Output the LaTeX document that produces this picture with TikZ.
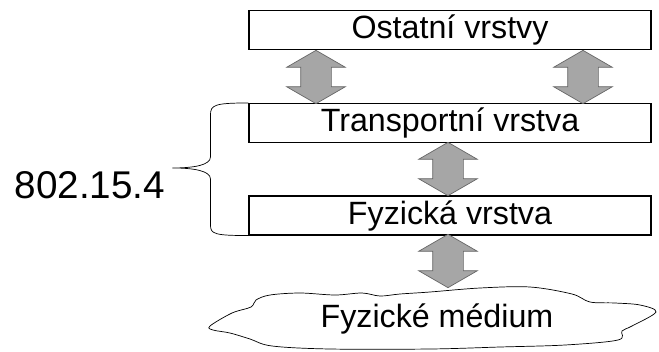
\documentclass[tikz,border=0pt]{standalone}
\usepackage{fontspec}
\setmainfont{Liberation Sans}
\usetikzlibrary{shapes.arrows}

\tikzset{
  vrstva/.style={draw,line width=0.9pt,minimum width=12.06cm,minimum height=1.17cm,
    inner sep=0pt,font=\fontsize{27.5}{30}\selectfont},
  sipka/.style={double arrow,draw=black!60,fill=black!35,line width=0.6pt,rotate=90,
    minimum height=1.6cm,inner xsep=0pt,inner ysep=0.45cm,
    double arrow head extend=0.42cm,double arrow tip angle=120},
}

\begin{document}
\begin{tikzpicture}[x=0.03cm,y=-0.03cm]
\useasboundingbox (0,0) rectangle (659,351);

\node[vrstva] (ostatni) at (450,30) {Ostatní vrstvy};
\node[vrstva] (transport) at (450,123) {Transportní vrstva};
\node[vrstva] (fyzicka) at (450,215.5) {Fyzická vrstva};

\node[sipka] (s1) at (316,77) {};
\node[sipka] (s2) at (583,77) {};
\node[sipka] (s3) at (448,169) {};
\node[sipka] (s4) at (448,261) {};

\draw[line width=0.6pt] plot[smooth cycle,tension=0.55] coordinates {
    (210,326) (232,313) (251,307) (256,300) (270,295) (300,293) (335,295)
    (362,293) (380,296) (400,294) (430,292) (480,288) (530,287) (572,294)
    (590,302) (615,303) (640,305) (656,312) (632,326) (622,331) (618,340)
    (565,345) (500,347) (430,349) (330,349) (272,346) (250,339) (230,333)
    (213,330)};
\node[anchor=base,font=\fontsize{27.5}{30}\selectfont] (medium) at (437,327) {Fyzické médium};

\node[anchor=base,font=\fontsize{33}{36}\selectfont] (norma) at (90,198) {802.15.4};

\draw[line width=0.6pt] (transport.north west)
    .. controls +(-34,0) and +(0,-10) .. ++(-38,12) -- ++(0,42)
    .. controls +(0,8) and +(22,0) .. ++(-38,11) coordinate (hrot)
    .. controls +(22,0) and +(0,-8) .. ++(38,11) -- ++(0,46)
    .. controls +(0,9) and +(-34,0) .. (fyzicka.south west);
\end{tikzpicture}
\end{document}
